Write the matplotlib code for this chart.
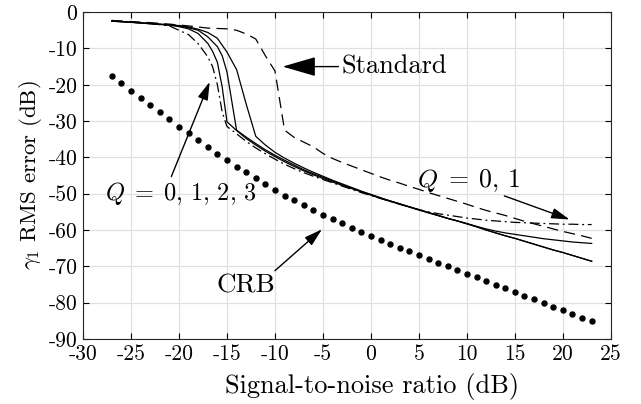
import matplotlib

matplotlib.use("Agg")
import matplotlib.pyplot as plt

# ---- data (SNR in dB, error in dB) ----
snr = list(range(-27, 24))
crb = [-17.6, -19.6, -21.7, -23.7, -25.6, -27.6, -29.5, -31.5, -33.3, -35.2,
       -37.2, -39.0, -40.7, -42.6, -44.1, -45.8, -47.4, -48.9, -50.5, -51.8,
       -53.2, -54.5, -55.8, -57.0, -58.2, -59.4, -60.6, -61.7, -62.8, -63.8,
       -64.9, -65.9, -66.9, -68.0, -69.0, -70.0, -71.0, -72.0, -73.0, -74.0,
       -75.1, -76.1, -77.1, -78.1, -79.1, -80.1, -81.1, -82.1, -83.1, -84.1,
       -85.1]

snr_hi = list(range(-4, 24))

std_x = [-27, -25, -23, -21, -19, -17, -15, -14, -13, -12, -11, -10, -9, -8, -7, -6, -5] + snr_hi
std_y = [-2.3, -2.6, -2.9, -3.3, -3.8, -4.4, -4.6, -5.0, -6.0, -7.4, -12.0, -16.2, -32.5,
         -34.5, -35.8, -37.1, -38.9,
         -40.3, -41.4, -42.4, -43.4, -44.4, -45.4, -46.3, -47.1, -48.0, -48.8, -49.7,
         -50.5, -51.3, -52.1, -52.9, -53.8, -54.6, -55.3, -56.0, -56.8, -57.6, -58.3,
         -59.0, -59.7, -60.4, -61.0, -61.6, -62.3]

q0_x = [-27, -25, -23, -21, -20, -19, -18, -17, -16.5, -16, -15.5, -15, -14, -13, -12,
        -11, -10, -9, -8, -7, -6, -5] + snr_hi
q0_y = [-2.3, -2.7, -3.1, -3.8, -5.0, -6.2, -8.7, -12.3, -15.0, -20.0, -27.5, -31.5,
        -33.5, -35.6, -37.4, -39.0, -40.5, -41.9, -43.1, -44.2, -45.2, -46.1,
        -47.0, -47.9, -48.8, -49.7, -50.5, -51.3, -52.1, -52.9, -53.7, -54.4, -55.0,
        -55.5, -55.9, -56.3, -56.7, -57.0, -57.3, -57.5, -57.7, -57.9, -58.0, -58.1,
        -58.2, -58.3, -58.4, -58.4, -58.5, -58.5]

q1_x = [-27, -25, -23, -21, -20, -19, -18, -17, -16.5, -16, -15.5, -15, -14, -13, -12,
        -11, -10, -9, -8, -7, -6, -5] + snr_hi
q1_y = [-2.4, -2.8, -3.2, -3.6, -4.0, -4.6, -5.9, -8.6, -10.8, -13.8, -20.6, -30.2,
        -32.6, -34.8, -36.6, -38.3, -39.8, -41.2, -42.5, -43.7, -44.8, -45.8,
        -46.8, -47.7, -48.6, -49.5, -50.4, -51.3, -52.1, -52.9, -53.7, -54.5, -55.3,
        -56.0, -56.8, -57.5, -58.2, -59.0, -59.7, -60.3, -60.8, -61.2, -61.6, -62.0,
        -62.4, -62.7, -63.0, -63.3, -63.5, -63.7]

q2_x = [-27, -25, -23, -21, -20, -19, -18, -17, -16, -15.5, -15, -14.5, -14, -13, -12,
        -11, -10, -9, -8, -7, -6, -5] + snr_hi
q2_y = [-2.5, -2.8, -3.2, -3.5, -3.8, -4.3, -5.0, -6.8, -9.5, -12.0, -16.5, -24.5,
        -32.5, -34.4, -36.2, -37.9, -39.4, -40.8, -42.1, -43.4, -44.5, -45.5,
        -46.5, -47.5, -48.4, -49.4, -50.3, -51.2, -52.0, -52.8, -53.6, -54.4, -55.2,
        -56.0, -56.8, -57.5, -58.3, -59.1, -60.0, -60.8, -61.6, -62.3, -63.1, -63.9,
        -64.7, -65.5, -66.2, -67.0, -67.8, -68.6]

q3_x = [-27, -25, -23, -21, -20, -19, -18, -17, -16, -15, -14, -13, -12,
        -11, -10, -9, -8, -7, -6, -5] + snr_hi
q3_y = [-2.5, -2.8, -3.1, -3.5, -3.7, -4.1, -4.7, -5.6, -7.2, -11.0, -15.8, -25.3,
        -34.2, -36.6, -38.6, -40.2, -41.6, -42.9, -44.1, -45.2,
        -46.3, -47.3, -48.3, -49.3, -50.2, -51.1, -52.0, -52.8, -53.6, -54.4, -55.2,
        -56.0, -56.8, -57.5, -58.3, -59.1, -60.0, -60.8, -61.6, -62.3, -63.1, -63.9,
        -64.7, -65.5, -66.2, -67.0, -67.8, -68.6]

xticks = list(range(-30, 30, 5))
yticks = list(range(-90, 10, 10))

plt.rcParams["font.family"] = ["cmr10", "DejaVu Serif"]
plt.rcParams["mathtext.fontset"] = "cm"
plt.rcParams["axes.unicode_minus"] = False
plt.rcParams["axes.formatter.use_mathtext"] = False

fig = plt.figure(figsize=(6.41, 4.04), dpi=100)
ax = fig.add_axes([0.1295, 0.161, 0.8235, 0.809])

ax.plot(snr, crb, linestyle="none", marker="o", markersize=3.6, color="black")
ax.plot(std_x, std_y, color="black", lw=0.9, dashes=(9, 5))
ax.plot(q0_x, q0_y, color="black", lw=0.9, dashes=(8, 3, 1.5, 3))
ax.plot(q1_x, q1_y, color="black", lw=0.9)
ax.plot(q2_x, q2_y, color="black", lw=0.9)
ax.plot(q3_x, q3_y, color="black", lw=0.9)

ax.set_xlim(-30, 25)
ax.set_ylim(-90, 0)
ax.set_xticks(xticks)
ax.set_yticks(yticks)
ax.grid(True, color="#e0e0e0", lw=0.9)
ax.set_axisbelow(True)
ax.tick_params(direction="in", top=True, right=True, length=4, width=0.8,
               labelsize=15.5, pad=4)
for s in ax.spines.values():
    s.set_linewidth(0.8)
    s.set_color("#262626")

ax.set_xlabel("Signal-to-noise ratio (dB)", fontsize=19, labelpad=0)
ax.xaxis.set_label_coords(0.547, -0.105)
ax.set_ylabel(r"$\gamma_1$ RMS error (dB)", fontsize=16.5, labelpad=3)

arrow = dict(arrowstyle="-|>,head_length=1.1,head_width=0.32", color="black",
             lw=1.0, shrinkA=0, shrinkB=0)
ax.annotate("Standard", xy=(-9.2, -15.0), xytext=(-3.1, -15.0), fontsize=19,
            va="center", ha="left", arrowprops=arrow)
ax.annotate("", xy=(-16.8, -19.2), xytext=(-20.8, -45.3), arrowprops=arrow)
ax.text(-27.7, -50.0, r"$Q\;=\;0,\,1,\,2,\,3$", fontsize=17.5, va="center", ha="left")
ax.annotate("", xy=(-5.1, -59.8), xytext=(-10.0, -71.2), arrowprops=arrow)
ax.text(-16.1, -75.4, "CRB", fontsize=19.5, va="center", ha="left")
ax.annotate("", xy=(20.7, -57.1), xytext=(13.9, -50.6), arrowprops=arrow)
ax.text(4.8, -46.5, r"$Q\;=\;0,\,1$", fontsize=18.5, va="center", ha="left")

fig.savefig("out.png", dpi=100)
